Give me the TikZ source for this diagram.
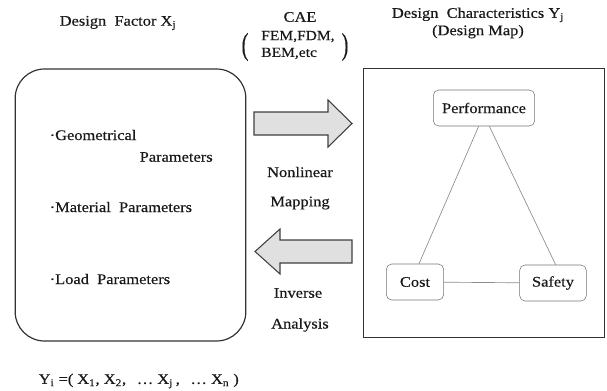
\documentclass[tikz,border=0pt]{standalone}
\usepackage{fontspec}
\setmainfont[FakeStretch=1.12, FakeBold=0.4]{Liberation Serif}
\begin{document}
\begin{tikzpicture}[x=0.75pt, y=-0.75pt,
    lbl/.style={font=\fontsize{11}{13}\selectfont, text=black!90},
    item/.style={lbl, anchor=west},
    paren/.style={lbl, font=\fontsize{15}{15}\selectfont},
    mapbox/.style={lbl, draw=black!55, rounded corners=4pt, minimum height=27pt, inner xsep=3pt},
    tri/.style={draw=black!45, line width=0.5pt},
    bigarrow/.style={draw=black!75, fill=black!12, line width=0.8pt, line join=miter}]
    \useasboundingbox (0,0) rectangle (607,390);

    % Titles
    \node[lbl] (factortitle) at (118,23) {Design\ \ Factor X\textsubscript{j}};
    \node[lbl] (cae) at (300,17) {CAE};
    \node[lbl, anchor=west, align=left, inner xsep=0pt, font=\fontsize{10.4}{12.6}\selectfont] (methods) at (261,45) {FEM,FDM,\\BEM,etc};
    \node[paren] (lpar) at (245,47) {\scalebox{0.9}[1.55]{(}};
    \node[paren] (rpar) at (345,47) {\scalebox{0.9}[1.55]{)}};
    \node[lbl, align=center] (maptitle) at (478,23) {Design\ \ Characteristics Y\textsubscript{j}\\(Design Map)};

    % Design factors
    \node[draw=black!80, line width=0.9pt, rounded corners=22pt,
          minimum width=173pt, minimum height=204pt] (factors) at (130.5,205) {};
    \node[item] (geo) at (45,135) {\textperiodcentered Geometrical};
    \node[item] (geo2) at (135,157) {Parameters};
    \node[item] (mat) at (45,207) {\textperiodcentered Material\ \ Parameters};
    \node[item] (load) at (45,279) {\textperiodcentered Load\ \ Parameters};

    % Design map
    \node[draw=black!80, line width=1.2pt, minimum width=181pt,
          minimum height=202pt] (map) at (484,203) {};
    \node[mapbox, minimum width=76pt] (perf) at (484,108) {Performance};
    \node[mapbox, minimum width=43pt] (cost) at (415,282) {Cost};
    \node[mapbox, minimum width=50pt] (safety) at (553,283) {Safety};
    \draw[tri] ([xshift=-4pt]perf.south) -- ([xshift=3pt]cost.north);
    \draw[tri] ([xshift=4pt]perf.south) -- ([xshift=2pt]safety.north);
    \draw[tri] (cost) -- (safety);

    % Mapping arrows
    \filldraw[bigarrow] (254,112) -- (328,112) -- (328,100) -- (352,123.5)
        -- (328,147) -- (328,135) -- (254,135) -- cycle;
    \filldraw[bigarrow] (352,240) -- (280,240) -- (280,229) -- (255,251.5)
        -- (280,274) -- (280,263) -- (352,263) -- cycle;
    \node[lbl] (nonlin) at (300,172) {Nonlinear};
    \node[lbl] (mapping) at (300,203) {Mapping};
    \node[lbl] (inverse) at (298,293) {Inverse};
    \node[lbl] (analysis) at (300,325) {Analysis};

    % Relation
    \node[lbl, anchor=west] (relation) at (34,381) {Y\textsubscript{i} =(\hspace{3pt}X\textsubscript{1}, X\textsubscript{2},\hspace{8pt}\dots\ X\textsubscript{j}\hspace{2pt},\hspace{8pt}\dots\ X\textsubscript{n}\hspace{3pt})};
\end{tikzpicture}
\end{document}
